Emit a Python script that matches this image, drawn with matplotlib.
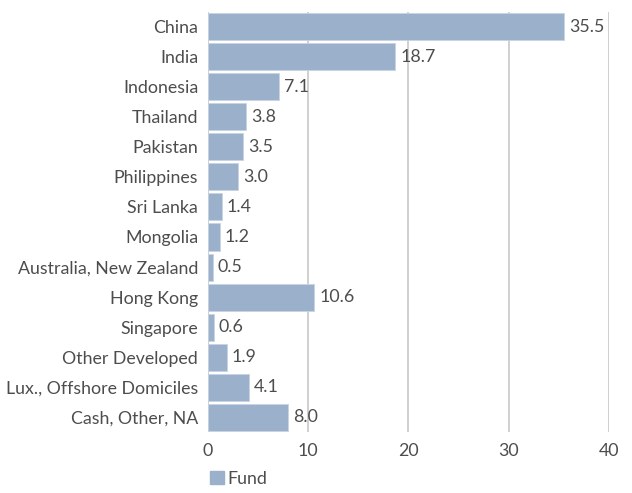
import matplotlib.pyplot as plt
from matplotlib.patches import Patch

plt.rcParams["font.family"] = ["Lato", "DejaVu Sans"]

categories = ["China", "India", "Indonesia", "Thailand", "Pakistan", "Philippines",
              "Sri Lanka", "Mongolia", "Australia, New Zealand", "Hong Kong",
              "Singapore", "Other Developed", "Lux., Offshore Domiciles", "Cash, Other, NA"]
fund = [35.5, 18.7, 7.1, 3.8, 3.5, 3.0, 1.4, 1.2, 0.5, 10.6, 0.6, 1.9, 4.1, 8.0]

BAR = "#9ab0cb"
TXT = "#4d4d4d"
FS = 12.8

fig = plt.figure(figsize=(6.32, 4.93), dpi=100)
ax = fig.add_axes([0.329, 0.1237, 0.6346, 0.852])

y = list(range(len(categories)))
ax.barh(y, fund, height=0.9, color=BAR, edgecolor="#c8d4e3", linewidth=0.6, zorder=3)
for yi, v in zip(y, fund):
    ax.text(v + 0.5, yi, f"{v:.1f}", va="center", ha="left", fontsize=FS, color=TXT, zorder=4)

ax.set_ylim(len(categories) - 0.5, -0.5)
ax.set_xlim(0, 40)
ax.set_xticks([0, 10, 20, 30, 40])
ax.set_yticks(y)
ax.set_yticklabels(categories)
ax.tick_params(axis="both", length=0, labelsize=FS, colors=TXT)
ax.tick_params(axis="y", pad=7)
ax.tick_params(axis="x", pad=8)
ax.grid(axis="x", color="#c8c8c8", linewidth=1.2, zorder=0)
for s in ax.spines.values():
    s.set_visible(False)

fig.legend(handles=[Patch(color=BAR, label="Fund")], loc="lower left",
           bbox_to_anchor=(0.307, -0.02), frameon=False, fontsize=FS,
           handlelength=0.8, handleheight=0.8, handletextpad=0.2, labelcolor=TXT)

fig.savefig("out.png", dpi=100)
